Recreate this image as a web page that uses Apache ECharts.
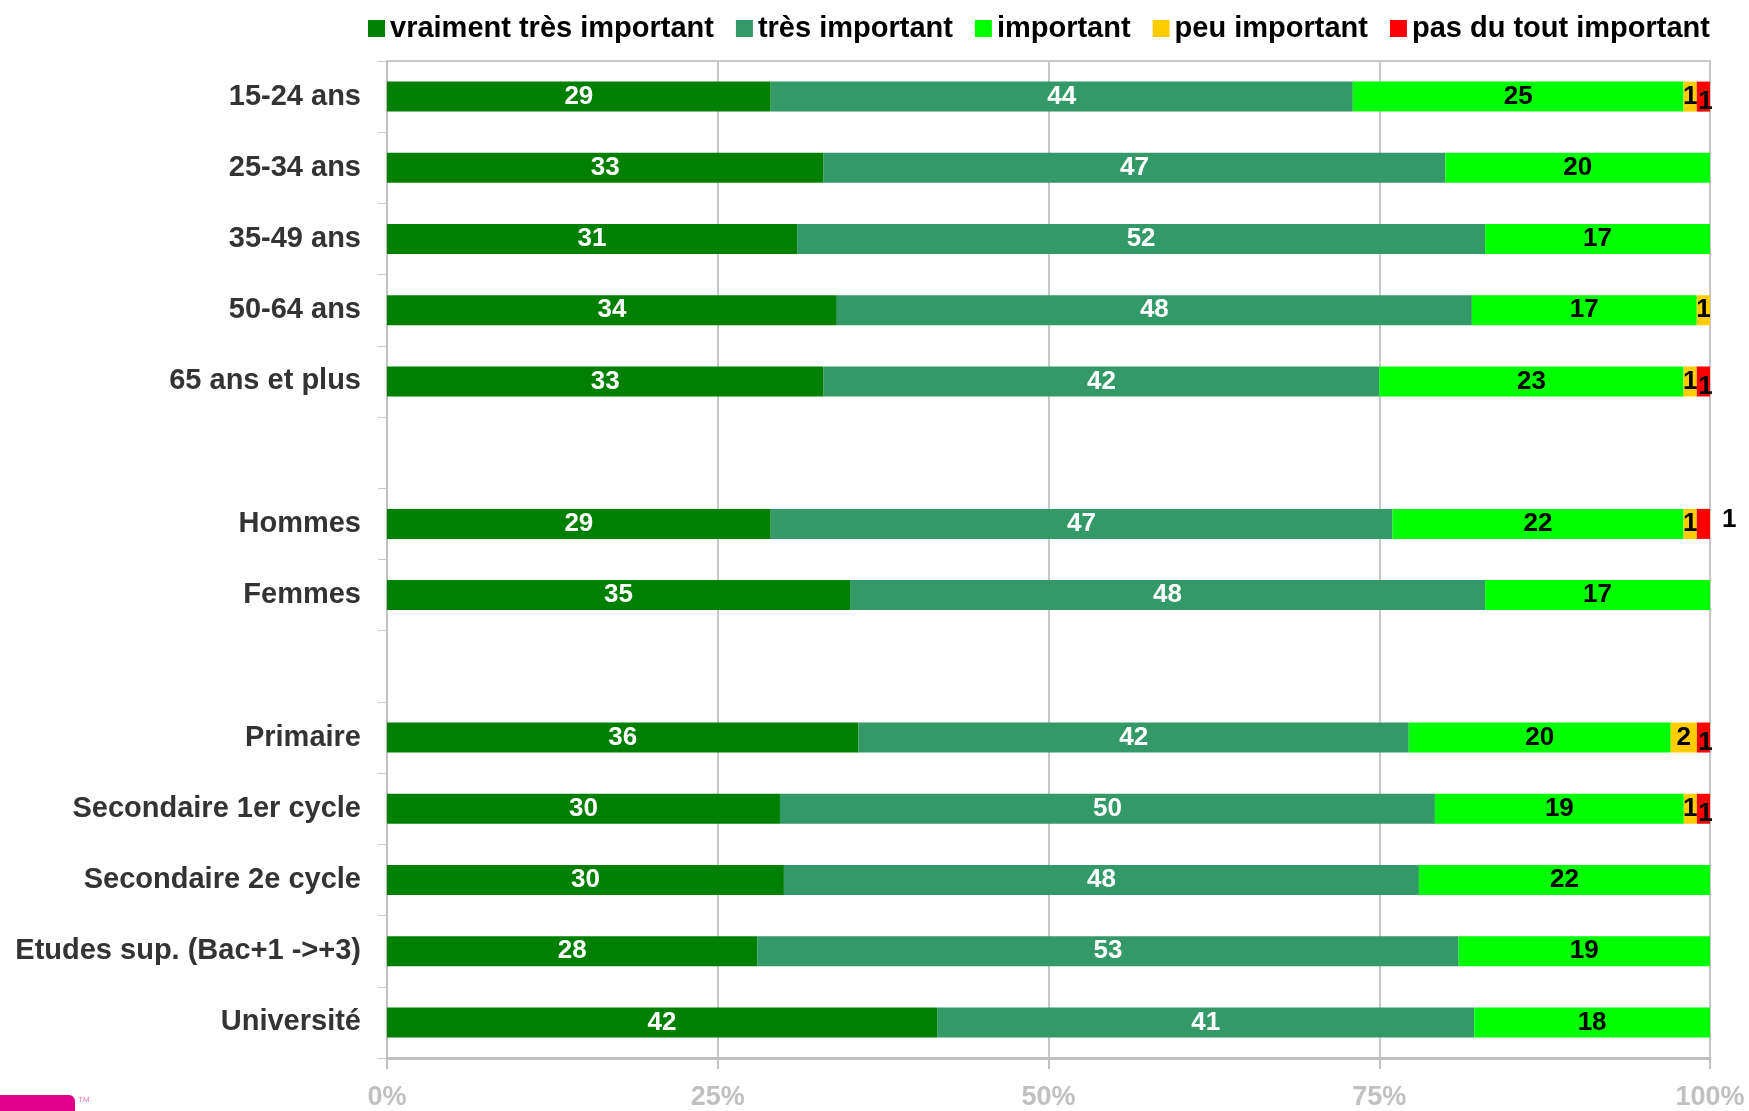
<!DOCTYPE html>
<html>
<head>
<meta charset="utf-8">
<script src="https://cdn.jsdelivr.net/npm/echarts@6/dist/echarts.min.js"></script>
<style>
html,body{margin:0;padding:0;background:#fff;}
#chart{width:1749px;height:1111px;}
</style>
</head>
<body>
<div id="chart"></div>
<script>
const categories = ['15-24 ans','25-34 ans','35-49 ans','50-64 ans','65 ans et plus',' ','Hommes','Femmes','  ','Primaire','Secondaire 1er cycle','Secondaire 2e cycle','Etudes sup. (Bac+1 ->+3)','Université'];
const seriesNames = ['vraiment très important','très important','important','peu important','pas du tout important'];
const vraimentTres = [29,33,31,34,33,null,29,35,null,36,30,30,28,42];
const tres        = [44,47,52,48,42,null,47,48,null,42,50,48,53,41];
const important   = [25,20,17,17,23,null,22,17,null,20,19,22,19,18];
const peu         = [1,0,0,1,1,null,1,0,null,2,1,0,0,0];
const pasDuTout   = [1,0,0,0,1,null,1,0,null,1,1,0,0,0];
const xTickLabels = ['0%','25%','50%','75%','100%'];

const raw = [vraimentTres, tres, important, peu, pasDuTout];
const colors = ['#008000','#339966','#00ff00','#ffcc00','#ff0000'];
const labelColors = ['#ffffff','#ffffff','#000000','#000000','#000000'];
const FONT = '"Liberation Sans", Arial, sans-serif';

const totals = categories.map((c,i)=>raw.reduce((s,a)=>s+(a[i]||0),0));

const series = raw.map((arr, si) => ({
  name: seriesNames[si],
  type: 'bar',
  stack: 'total',
  barWidth: 30,
  itemStyle: {color: colors[si]},
  label: {
    show: true,
    position: 'inside',
    color: labelColors[si],
    fontSize: 26,
    fontWeight: 'bold',
    fontFamily: FONT,
    formatter: p => { const v = arr[p.dataIndex]; return v ? String(v) : ''; }
  },
  data: arr.map((v, i) => {
    if (v === null || !totals[i]) return null;
    const item = {value: v * 100 / totals[i]};
    if (si === 4 && v) {
      if (categories[i] === 'Hommes') {
        item.label = {position: 'right', distance: 12, offset: [0, -4]};
      } else {
        item.label = {offset: [2, 5]};
      }
    }
    return item;
  })
}));

const chart = echarts.init(document.getElementById('chart'), null, {renderer: 'canvas'});
chart.setOption({
  animation: false,
  backgroundColor: '#ffffff',
  legend: {
    data: seriesNames,
    left: 363,
    top: 9,
    icon: 'rect',
    itemWidth: 17,
    itemHeight: 17,
    itemGap: 22,
    textStyle: {fontSize: 29, fontWeight: 'bold', color: '#000', fontFamily: FONT}
  },
  grid: {left: 387, right: 39, top: 61, bottom: 50, containLabel: false,
         show: true, borderColor: '#c8c8c8', borderWidth: 2, backgroundColor: 'transparent'},
  xAxis: {
    type: 'value',
    min: 0, max: 100, interval: 25,
    axisLine: {show: true, lineStyle: {color: '#c0c0c0', width: 3}},
    axisTick: {show: true, length: 11, lineStyle: {color: '#c0c0c0', width: 2}},
    splitLine: {show: true, lineStyle: {color: '#c8c8c8', width: 2}},
    axisLabel: {
      margin: 26,
      color: '#c0c0c0',
      fontSize: 27,
      fontWeight: 'bold',
      fontFamily: FONT,
      formatter: v => xTickLabels[Math.round(v / 25)]
    }
  },
  yAxis: {
    type: 'category',
    inverse: true,
    data: categories,
    axisLine: {show: true, lineStyle: {color: '#c0c0c0', width: 2}},
    axisTick: {show: true, length: 9, lineStyle: {color: '#c8c8c8', width: 1}},
    axisLabel: {
      margin: 26,
      color: '#333333',
      fontSize: 29,
      fontWeight: 'bold',
      fontFamily: FONT
    }
  },
  graphic: [
    {type: 'rect', left: -8, top: 1095, shape: {width: 83, height: 30, r: 6}, style: {fill: '#e4008a'}},
    {type: 'text', left: 78, top: 1096, style: {text: 'TM', fill: '#e87ab8', fontSize: 8, fontFamily: FONT}}
  ],
  series: series
});
</script>
</body>
</html>
